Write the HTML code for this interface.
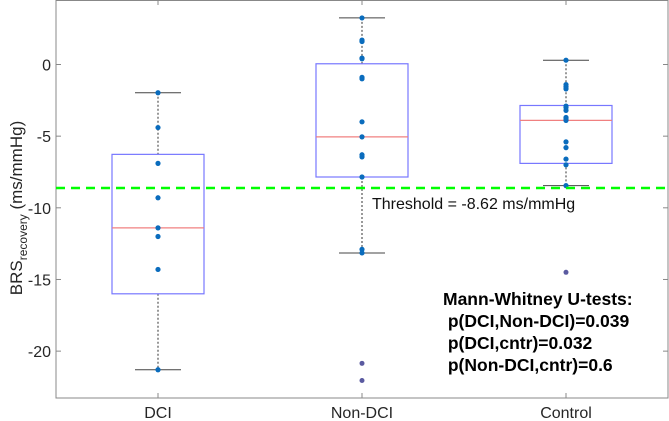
<!DOCTYPE html>
<html><head><meta charset="utf-8"><style>
body{margin:0;background:#fff;width:669px;height:421px;overflow:hidden}
svg{display:block;font-family:"Liberation Sans",Arial,sans-serif}
</style></head><body>
<svg id="chart" width="669" height="421"></svg>
<script>
const categories = ["DCI","Non-DCI","Control"];
const dciPoints = [-1.97,-4.4,-6.9,-9.3,-11.4,-12.0,-14.3,-21.3];
const nonDciPoints = [3.25,1.7,1.6,0.45,0.4,-0.9,-1.0,-4.0,-5.05,-6.3,-6.45,-7.85,-12.9,-13.15];
const controlPoints = [0.3,-1.4,-1.55,-1.7,-2.9,-3.0,-3.2,-3.7,-3.8,-3.9,-5.4,-5.8,-6.6,-7.0,-8.45];
const outlierValues = [[],[-20.85,-22.05],[-14.5]];
// box stats: [whiskerLow, q1, median, q3, whiskerHigh]
const boxStats = [
  [-21.3,-16.0,-11.4,-6.27,-1.97],
  [-13.15,-7.85,-5.05,0.05,3.25],
  [-8.45,-6.9,-3.9,-2.86,0.3]
];
const yTicks = [0,-5,-10,-15,-20];
const threshold = -8.62;
const statsLines = ["Mann-Whitney U-tests:"," p(DCI,Non-DCI)=0.039"," p(DCI,cntr)=0.032"," p(Non-DCI,cntr)=0.6"];

const svg = document.getElementById('chart');
const NS = 'http://www.w3.org/2000/svg';
const L=56, R=668, T=0, B=398, yMax=4.5, yMin=-23.27;
const xs = i => L + (i+0.5)*(R-L)/3;
const ys = v => T + (yMax - v)/(yMax - yMin)*(B-T);
function mk(tag, attrs, parent){const e=document.createElementNS(NS,tag);for(const k in attrs)e.setAttribute(k,attrs[k]);(parent||svg).appendChild(e);return e;}

const frame = mk('rect',{x:L,y:T+0.5,width:R-L,height:B-T-0.5,fill:'#fff',stroke:'#888','stroke-width':1});



yTicks.forEach(t=>{
  const y=ys(t);
  const tk=mk('line',{x1:L,x2:L+5,y1:y,y2:y,stroke:'#888'});
  
  
  mk('line',{x1:R-5,x2:R,y1:y,y2:y,stroke:'#888'});
  const tx=mk('text',{x:L-5,y:y+6,'text-anchor':'end','font-size':16,fill:'#262626'});
  tx.textContent=t;
  
  
});
categories.forEach((c,i)=>{
  const x=xs(i);
  mk('line',{x1:x,x2:x,y1:B,y2:B-5,stroke:'#888'});
  mk('line',{x1:x,x2:x,y1:T,y2:T+5,stroke:'#888'});
  const tx=mk('text',{x:x,y:B+20,'text-anchor':'middle','font-size':16,fill:'#262626'});
  tx.textContent=c;
  
  
});

const allPts=[dciPoints,nonDciPoints,controlPoints];
boxStats.forEach((s,i)=>{
  const x=xs(i), hw=46, cw=23;
  const g=mk('g',{});
  
  
  mk('line',{x1:x,x2:x,y1:ys(s[4]),y2:ys(s[3]),stroke:'#333','stroke-dasharray':'2,2','stroke-width':1},g);
  mk('line',{x1:x,x2:x,y1:ys(s[1]),y2:ys(s[0]),stroke:'#333','stroke-dasharray':'2,2','stroke-width':1},g);
  mk('line',{x1:x-cw,x2:x+cw,y1:ys(s[4]),y2:ys(s[4]),stroke:'#444'},g);
  mk('line',{x1:x-cw,x2:x+cw,y1:ys(s[0]),y2:ys(s[0]),stroke:'#444'},g);
  mk('rect',{x:x-hw,y:ys(s[3]),width:2*hw,height:ys(s[1])-ys(s[3]),fill:'none',stroke:'#7777ff','stroke-width':1.2},g);
  mk('line',{x1:x-hw,x2:x+hw,y1:ys(s[2]),y2:ys(s[2]),stroke:'#f08080','stroke-width':1.2},g);
  outlierValues[i].forEach(v=>{
    const o=mk('circle',{cx:x,cy:ys(v),r:2.5,fill:'#5a5aa0'},g);
    
    
  });
  allPts[i].forEach(v=>{
    const p=mk('circle',{cx:x,cy:ys(v),r:2.6,fill:'#0a6cbd'},g);
    
    
  });
});

const th=mk('line',{x1:L,x2:R,y1:ys(threshold),y2:ys(threshold),stroke:'#00ff00','stroke-width':2.5,'stroke-dasharray':'9,6'});


const tt=mk('text',{x:372,y:ys(threshold)+21,'font-size':16,fill:'#111'});
tt.textContent='Threshold = -8.62 ms/mmHg';



statsLines.forEach((s,i)=>{
  const t=mk('text',{x:443,y:305+i*22,'font-size':17.5,'font-weight':'bold',fill:'#000','xml:space':'preserve'});
  t.style.whiteSpace='pre';
  t.textContent=s;
  
  
});

const yl=mk('text',{transform:'translate(22,208) rotate(-90)','text-anchor':'middle','font-size':17,fill:'#262626'});


yl.innerHTML='BRS<tspan font-size="12" dy="5">recovery</tspan><tspan dy="-5"> (ms/mmHg)</tspan>';
</script>
</body></html>
